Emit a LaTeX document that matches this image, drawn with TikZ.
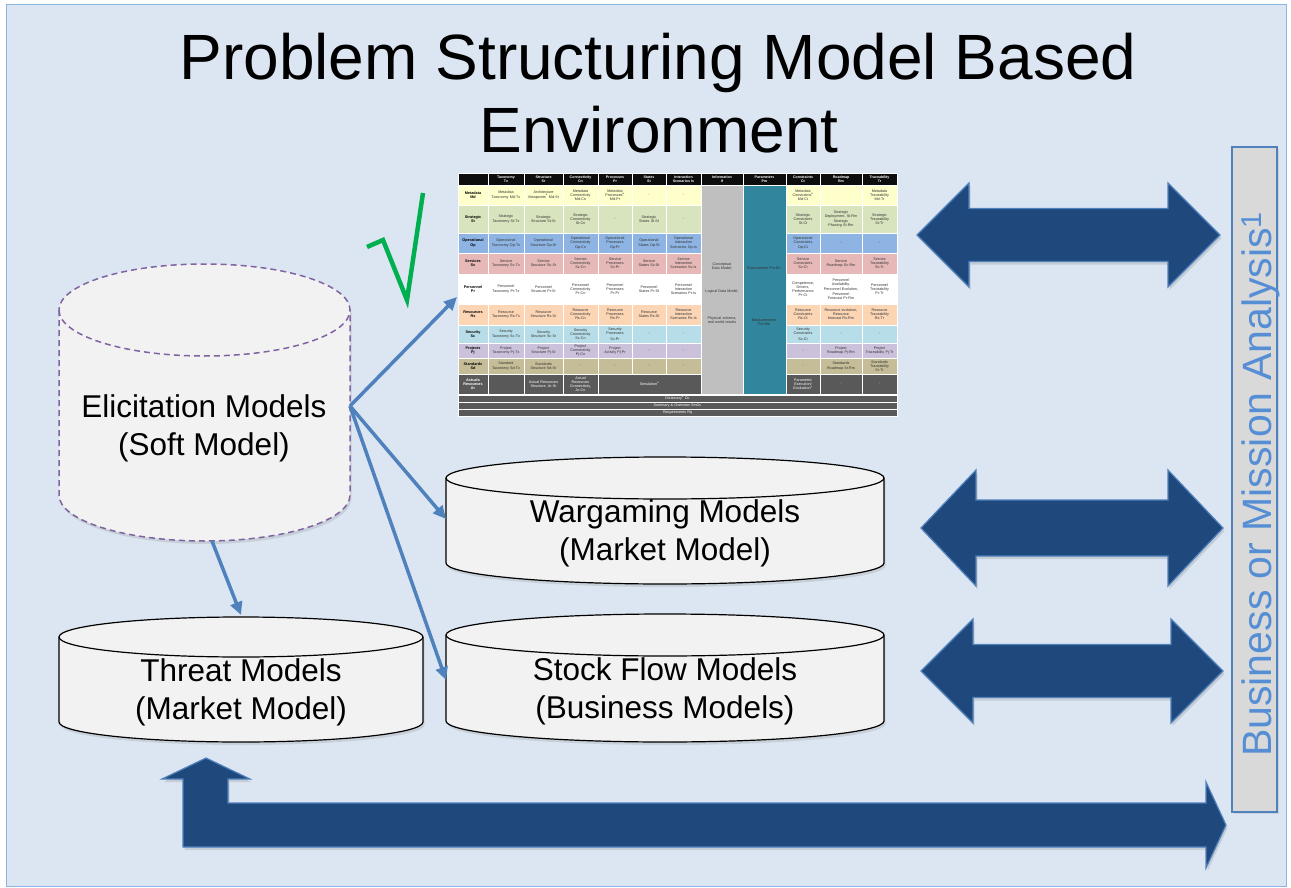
\documentclass[tikz,border=0pt]{standalone}
\usepackage{fontspec}
\setmainfont{Liberation Sans}
\usetikzlibrary{arrows.meta,shadows}

\definecolor{bgblue}{HTML}{DCE6F2}
\definecolor{framebl}{HTML}{8EB4E3}
\definecolor{connbl}{HTML}{4F81BD}
\definecolor{darkbl}{HTML}{1F497D}
\definecolor{vtext}{HTML}{558ED5}
\definecolor{cylfill}{HTML}{F2F2F2}
\definecolor{softpurple}{HTML}{8064A2}
\definecolor{tickgreen}{HTML}{00B050}
% matrix row colours
\definecolor{cMd}{HTML}{FFFFCC}
\definecolor{cSt}{HTML}{D7E4BD}
\definecolor{cOp}{HTML}{8DB4E2}
\definecolor{cSv}{HTML}{E6B9B8}
\definecolor{cPr}{HTML}{FFFFFF}
\definecolor{cRs}{HTML}{FCD5B5}
\definecolor{cSc}{HTML}{B7DEE8}
\definecolor{cPj}{HTML}{CCC1DA}
\definecolor{cSd}{HTML}{C4BD97}
\definecolor{cAr}{HTML}{595959}
\definecolor{cHd}{HTML}{0D0D0D}
\definecolor{cIf}{HTML}{BFBFBF}
\definecolor{cPm}{HTML}{31859C}

% column and row boundaries of the viewpoint matrix
\def\cxs{{458,488,524,563,598,632,666,701,743,786,820,862,897}}
\def\rys{{173,185,205,233,253,274,304,325,343,358,374,394}}

% no hyphenation inside the tiny matrix cells
\newcommand\nohyph{\hyphenpenalty=10000\exhyphenpenalty=10000\lefthyphenmin=62\righthyphenmin=62\relax}

% a matrix cell from raw boundaries
\newcommand\tbox[7]{%
  \pgfmathsetmacro\bw{#2-#1}\pgfmathsetmacro\bh{#4-#3}%
  \pgfmathsetmacro\tw{#2-#1-7}%
  \pgfmathsetmacro\bx{(#1+#2)/2}\pgfmathsetmacro\by{(#3+#4)/2}%
  \node[tcell,#5,minimum width=\bw pt,minimum height=\bh pt,text width=\tw pt] (#6) at (\bx,\by) {\nohyph #7};}
% a matrix cell from column / row indices
\newcommand\tc[5]{%
  \pgfmathtruncatemacro\xa{\cxs[#1]}\pgfmathtruncatemacro\xb{\cxs[#2]}%
  \pgfmathtruncatemacro\ya{\rys[#3]}\pgfmathtruncatemacro\yb{\rys[#3+1]}%
  \tbox{\xa}{\xb}{\ya}{\yb}{#4}{t#3-#1}{#5}}

% cylinder: left, right, top centre, bottom centre, radius y, body style, rim style
\newcommand\cyl[7]{%
  \pgfmathsetmacro\crx{(#2-#1)/2}%
  \path[#6] (#1,#3) -- (#1,#4)
    arc[start angle=180,end angle=360,x radius=\crx pt,y radius=#5pt]
    -- (#2,#3)
    arc[start angle=0,end angle=180,x radius=\crx pt,y radius=#5pt] -- cycle;
  \path[#7] (#1,#3)
    arc[start angle=180,end angle=360,x radius=\crx pt,y radius=#5pt];}

% block double arrow: left tip, right tip, centre y, head half, shaft half, head length
\newcommand\dblarrow[6]{%
  \path[bigarrow] (#1,#3) -- ({#1+#6},{#3-#4}) -- ({#1+#6},{#3-#5}) -- ({#2-#6},{#3-#5})
    -- ({#2-#6},{#3-#4}) -- (#2,#3) -- ({#2-#6},{#3+#4}) -- ({#2-#6},{#3+#5})
    -- ({#1+#6},{#3+#5}) -- ({#1+#6},{#3+#4}) -- cycle;}

\tikzset{
  tcell/.style={inner sep=0pt,outer sep=0pt,draw=white,line width=0.5pt,align=center,
    text=black!80,font=\fontsize{3.7}{4.1}\selectfont\nohyph},
  lab/.style={text=black,font=\fontsize{3.8}{4.2}\selectfont\bfseries\nohyph},
  hd/.style={fill=cHd,text=white,font=\fontsize{3.6}{4.0}\selectfont\bfseries\nohyph},
  ar/.style={fill=cAr,text=white},
  cylline/.style={draw=black,line width=1.2pt},
  softline/.style={draw=softpurple,line width=1.5pt,dash pattern=on 6pt off 4pt},
  cylbody/.style={cylline,fill=cylfill,
    drop shadow={opacity=0.22,shadow xshift=1.5pt,shadow yshift=-3pt}},
  softbody/.style={softline,fill=cylfill,
    drop shadow={opacity=0.22,shadow xshift=1.5pt,shadow yshift=-3pt}},
  cyltext/.style={align=center,font=\fontsize{31.5}{38}\selectfont,inner sep=0pt},
  conn/.style={draw=connbl,line width=3.5pt,-{Triangle[length=13pt,width=12pt]}},
  bigarrow/.style={fill=darkbl,draw=connbl,line width=1.2pt,line join=miter,
    drop shadow={opacity=0.25,shadow xshift=1.5pt,shadow yshift=-3pt}},
}

\begin{document}
\begin{tikzpicture}[x=1pt,y=-1pt]
\useasboundingbox (0,0) rectangle (1291,888);
\fill[white] (0,0) rectangle (1291,888);
\draw[fill=bgblue,draw=framebl,line width=1pt] (6,5) rectangle (1286,886);

% title
\node[anchor=base,inner sep=0pt,font=\fontsize{64}{70}\selectfont] (title1) at (658,80) {Problem Structuring Model Based};
\node[anchor=base,inner sep=0pt,font=\fontsize{64}{70}\selectfont] (title2) at (659,153) {Environment};

% ---------------- viewpoint matrix ----------------
% header
\tc{0}{1}{0}{hd}{}
\tc{1}{2}{0}{hd}{Taxonomy\\Tx}
\tc{2}{3}{0}{hd}{Structure\\Sr}
\tc{3}{4}{0}{hd}{Connectivity\\Cn}
\tc{4}{5}{0}{hd}{Processes\\Pr}
\tc{5}{6}{0}{hd}{States\\St}
\tc{6}{7}{0}{hd}{Interaction\\Scenarios Is}
\tc{7}{8}{0}{hd}{Information\\If}
\tc{8}{9}{0}{hd}{Parameters\\Pm}
\tc{9}{10}{0}{hd}{Constraints\\Ct}
\tc{10}{11}{0}{hd}{Roadmap\\Rm}
\tc{11}{12}{0}{hd}{Traceability\\Tr}
% metadata
\tc{0}{1}{1}{fill=cMd,lab}{Metadata\\Md}
\tc{1}{2}{1}{fill=cMd}{Metadata Taxonomy Md-Tx}
\tc{2}{3}{1}{fill=cMd}{Architecture Viewpoints\textsuperscript{a} Md-Sr}
\tc{3}{4}{1}{fill=cMd}{Metadata Connectivity Md-Cn}
\tc{4}{5}{1}{fill=cMd}{Metadata Processes\textsuperscript{a} Md-Pr}
\tc{5}{6}{1}{fill=cMd}{-}
\tc{6}{7}{1}{fill=cMd}{-}
\tc{9}{10}{1}{fill=cMd}{Metadata Constraints\textsuperscript{a} Md-Ct}
\tc{10}{11}{1}{fill=cMd}{}
\tc{11}{12}{1}{fill=cMd}{Metadata Traceability Md-Tr}
% strategic
\tc{0}{1}{2}{fill=cSt,lab}{Strategic\\St}
\tc{1}{2}{2}{fill=cSt}{Strategic Taxonomy St-Tx}
\tc{2}{3}{2}{fill=cSt}{Strategic Structure St-Sr}
\tc{3}{4}{2}{fill=cSt}{Strategic Connectivity St-Cn}
\tc{4}{5}{2}{fill=cSt}{-}
\tc{5}{6}{2}{fill=cSt}{Strategic States St-St}
\tc{6}{7}{2}{fill=cSt}{-}
\tc{9}{10}{2}{fill=cSt}{Strategic Constraints St-Ct}
\tc{10}{11}{2}{fill=cSt}{Strategic Deployment, St-Rm\\[1.5pt]Strategic Phasing St-Rm}
\tc{11}{12}{2}{fill=cSt}{Strategic Traceability St-Tr}
% operational
\tc{0}{1}{3}{fill=cOp,lab}{Operational\\Op}
\tc{1}{2}{3}{fill=cOp}{Operational Taxonomy Op-Tx}
\tc{2}{3}{3}{fill=cOp}{Operational Structure Op-Sr}
\tc{3}{4}{3}{fill=cOp}{Operational Connectivity Op-Cn}
\tc{4}{5}{3}{fill=cOp}{Operational Processes Op-Pr}
\tc{5}{6}{3}{fill=cOp}{Operational States Op-St}
\tc{6}{7}{3}{fill=cOp}{Operational Interaction Scenarios Op-Is}
\tc{9}{10}{3}{fill=cOp}{Operational Constraints Op-Ct}
\tc{10}{11}{3}{fill=cOp}{-}
\tc{11}{12}{3}{fill=cOp}{-}
% services
\tc{0}{1}{4}{fill=cSv,lab}{Services\\Sv}
\tc{1}{2}{4}{fill=cSv}{Service Taxonomy Sv-Tx}
\tc{2}{3}{4}{fill=cSv}{Service Structure Sv-Sr}
\tc{3}{4}{4}{fill=cSv}{Service Connectivity Sv-Cn}
\tc{4}{5}{4}{fill=cSv}{Service Processes Sv-Pr}
\tc{5}{6}{4}{fill=cSv}{Service States Sv-St}
\tc{6}{7}{4}{fill=cSv}{Service Interaction Scenarios Sv-Is}
\tc{9}{10}{4}{fill=cSv}{Service Constraints Sv-Ct}
\tc{10}{11}{4}{fill=cSv}{Service Roadmap Sv-Rm}
\tc{11}{12}{4}{fill=cSv}{Service Traceability Sv-Tr}
% personnel
\tc{0}{1}{5}{fill=cPr,lab}{Personnel\\Pr}
\tc{1}{2}{5}{fill=cPr}{Personnel Taxonomy Pr-Tx}
\tc{2}{3}{5}{fill=cPr}{Personnel Structure Pr-Sr}
\tc{3}{4}{5}{fill=cPr}{Personnel Connectivity Pr-Cn}
\tc{4}{5}{5}{fill=cPr}{Personnel Processes Pr-Pr}
\tc{5}{6}{5}{fill=cPr}{Personnel States Pr-St}
\tc{6}{7}{5}{fill=cPr}{Personnel Interaction Scenarios Pr-Is}
\tc{9}{10}{5}{fill=cPr}{Competence, Drivers, Performance Pr-Ct}
\tc{10}{11}{5}{fill=cPr}{Personnel Availability,\\[1pt]Personnel Evolution,\\[1pt]Personnel Forecast Pr-Rm}
\tc{11}{12}{5}{fill=cPr}{Personnel Traceability Pr-Tr}
% resources
\tc{0}{1}{6}{fill=cRs,lab}{Resources\\Rs}
\tc{1}{2}{6}{fill=cRs}{Resource Taxonomy Rs-Tx}
\tc{2}{3}{6}{fill=cRs}{Resource Structure Rs-Sr}
\tc{3}{4}{6}{fill=cRs}{Resource Connectivity Rs-Cn}
\tc{4}{5}{6}{fill=cRs}{Resource Processes Rs-Pr}
\tc{5}{6}{6}{fill=cRs}{Resource States Rs-St}
\tc{6}{7}{6}{fill=cRs}{Resource Interaction Scenarios Rs-Is}
\tc{9}{10}{6}{fill=cRs}{Resource Constraints Rs-Ct}
\tc{10}{11}{6}{fill=cRs}{Resource evolution, Resource forecast Rs-Rm}
\tc{11}{12}{6}{fill=cRs}{Resource Traceability Rs-Tr}
% security
\tc{0}{1}{7}{fill=cSc,lab}{Security\\Sc}
\tc{1}{2}{7}{fill=cSc}{Security Taxonomy Sc-Tx}
\tc{2}{3}{7}{fill=cSc}{Security Structure Sc-Sr}
\tc{3}{4}{7}{fill=cSc}{Security Connectivity Sc-Cn}
\tc{4}{5}{7}{fill=cSc}{Security Processes\\[2pt]Sc-Pr}
\tc{5}{6}{7}{fill=cSc}{-}
\tc{6}{7}{7}{fill=cSc}{-}
\tc{9}{10}{7}{fill=cSc}{Security Constraints\\[2pt]Sc-Ct}
\tc{10}{11}{7}{fill=cSc}{-}
\tc{11}{12}{7}{fill=cSc}{-}
% projects
\tc{0}{1}{8}{fill=cPj,lab}{Projects\\Pj}
\tc{1}{2}{8}{fill=cPj}{Project Taxonomy Pj-Tx}
\tc{2}{3}{8}{fill=cPj}{Project Structure Pj-Sr}
\tc{3}{4}{8}{fill=cPj}{Project Connectivity Pj-Cn}
\tc{4}{5}{8}{fill=cPj}{Project Activity Pj-Pr}
\tc{5}{6}{8}{fill=cPj}{-}
\tc{6}{7}{8}{fill=cPj}{-}
\tc{9}{10}{8}{fill=cPj}{-}
\tc{10}{11}{8}{fill=cPj}{Project Roadmap Pj-Rm}
\tc{11}{12}{8}{fill=cPj}{Project Traceability Pj-Tr}
% standards
\tc{0}{1}{9}{fill=cSd,lab}{Standards\\Sd}
\tc{1}{2}{9}{fill=cSd}{Standard Taxonomy Sd-Tx}
\tc{2}{3}{9}{fill=cSd}{Standards Structure Sd-Sr}
\tc{3}{4}{9}{fill=cSd}{-}
\tc{4}{5}{9}{fill=cSd}{-}
\tc{5}{6}{9}{fill=cSd}{-}
\tc{6}{7}{9}{fill=cSd}{-}
\tc{9}{10}{9}{fill=cSd}{-}
\tc{10}{11}{9}{fill=cSd}{Standards Roadmap Sr-Rm}
\tc{11}{12}{9}{fill=cSd}{Standards Traceability Sr-Tr}
% actuals
\tc{0}{1}{10}{ar,lab,text=white}{Actuals Resources Ar}
\tc{1}{2}{10}{ar}{}
\tc{2}{3}{10}{ar}{Actual Resources Structure, Ar-Sr}
\tc{3}{4}{10}{ar}{Actual Resources Connectivity, Ar-Cn}
\tc{4}{7}{10}{ar}{Simulation\textsuperscript{a}}
\tc{9}{10}{10}{ar}{Parametric Execution/ Evaluation\textsuperscript{a}}
\tc{10}{11}{10}{ar}{-}
\tc{11}{12}{10}{ar}{-}
% information and parameter columns
\tbox{701}{743}{185}{394}{fill=cIf}{tinfo}{}
\tbox{743}{786}{185}{394}{fill=cPm}{tparam}{}
\node[tcell,draw=none,text width=36pt] (if1) at (722,266) {\nohyph Conceptual Data Model,};
\node[tcell,draw=none,text width=36pt] (if2) at (722,292) {\nohyph Logical Data Model,};
\node[tcell,draw=none,text width=36pt] (if3) at (722,320) {\nohyph Physical schema, real world results};
\node[tcell,draw=none,text width=36pt] (pm1) at (764,268) {\nohyph Environment Pm-En};
\node[tcell,draw=none,text width=36pt] (pm2) at (764,322) {\nohyph Measurements Pm-Me};
% footer bars
\tbox{458}{897}{395}{402}{ar}{tdict}{Dictionary\textsuperscript{a} Dc}
\tbox{458}{897}{402.5}{409}{ar}{tsum}{Summary \& Overview SmOv}
\tbox{458}{897}{409.5}{416}{ar}{treq}{Requirements Rq}

% tick beside the matrix
\draw[tickgreen,line width=4.5pt,line join=miter] (367,247) -- (383,240) -- (407,300) -- (423,193);

% ---------------- model stores ----------------
\cyl{59}{350}{310}{495}{46}{softbody}{softline}
\node[cyltext] (elic) at (204,428) {Elicitation Models\\(Soft Model)};
\cyl{59}{423}{637}{722}{20}{cylbody}{cylline}
\node[cyltext] (threat) at (241,692) {Threat Models\\(Market Model)};
\cyl{446}{884}{478}{563}{21}{cylbody}{cylline}
\node[cyltext] (war) at (665,533) {Wargaming Models\\(Market Model)};
\cyl{446}{884}{635}{721}{21}{cylbody}{cylline}
\node[cyltext] (stock) at (665,691) {Stock Flow Models\\(Business Models)};

% connector ends
\coordinate (elic-e) at (350,406);
\coordinate (elic-s) at (212,541);
\coordinate (tbl-w) at (457,297);
\coordinate (war-w) at (446,519);
\coordinate (stock-w) at (446,680);
\coordinate (threat-n) at (241,615);

\draw[conn] (elic-e) -- (tbl-w);
\draw[conn] (elic-e) -- (war-w);
\draw[conn] (elic-e) -- (stock-w);
\draw[conn] (elic-s) -- (threat-n);

% ---------------- analysis bar and exchange arrows ----------------
\draw[fill=black!15,draw=connbl,line width=1.5pt,
  drop shadow={opacity=0.2,shadow xshift=1.5pt,shadow yshift=-2pt}] (1232,147) rectangle (1277,812);
\node[rotate=90,anchor=base west,inner sep=0pt,text=vtext,font=\fontsize{41}{45}\selectfont] (bma) at (1271,757)
  {Business or Mission Analysis\textsuperscript{1}};

\dblarrow{917}{1220}{235}{52}{26.5}{52}
\dblarrow{921}{1223}{528}{58}{28}{55}
\dblarrow{921}{1223}{671}{52}{26.5}{52}

\path[bigarrow] (206,758) -- (250,779) -- (228,779) -- (228,803) -- (1206,803) -- (1206,782)
  -- (1226,825) -- (1206,868) -- (1206,847) -- (183,847) -- (183,779) -- (162,779) -- cycle;
\end{tikzpicture}
\end{document}
